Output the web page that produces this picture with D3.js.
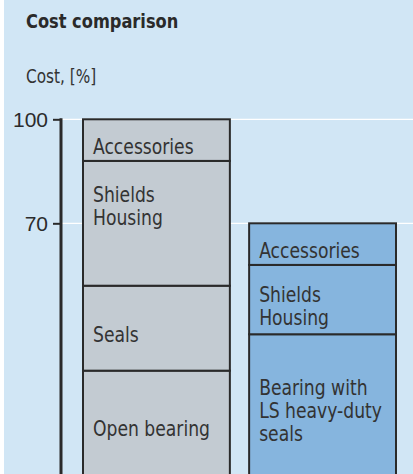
<!DOCTYPE html>
<html lang="en">
  <head>
    <meta charset="utf-8" />
    <title>Cost comparison</title>
    <script src="https://d3js.org/d3.v7.min.js"></script>
    <style>
      body {
        margin: 0;
        background: #fff;
        font-family: 'DejaVu Sans Condensed', 'DejaVu Sans', sans-serif;
      }
      svg {
        display: block;
      }
      .tick text {
        font-size: 21px;
        fill: #2b2b2b;
      }
      .seg-label {
        font-size: 21px;
        fill: #333;
      }
    </style>
  </head>
  <body>
    <div id="chart"></div>
    <script>
      /* ----------------------------- DATA ----------------------------- */
      const bars = ['Open bearing solution', 'Sealed bearing solution'];

      // segments, bottom to top
      const segmentLabels = [
        ['Open bearing', 'Seals', 'Shields\nHousing', 'Accessories'],
        ['Bearing with\nLS heavy-duty\nseals', 'Shields\nHousing', 'Accessories'],
      ];
      const segmentValues = [
        [27.5, 24.5, 36, 12],
        [38, 20, 12],
      ];
      const barColors = ['#c3cbd2', '#86b5de'];
      const yTicks = [70, 100];

      /* ---------------------------- LAYOUT ---------------------------- */
      const W = 413,
        H = 474;
      const squeeze = 0.91; // the original face is narrower than DejaVu Condensed

      // labels that sit near the top of their segment instead of centred
      const topAligned = [[0, 2]];

      const svg = d3
        .select('#chart')
        .append('svg')
        .attr('width', W)
        .attr('height', H);

      // panel background
      svg
        .append('rect')
        .attr('x', 4)
        .attr('y', 0)
        .attr('width', W - 4)
        .attr('height', H)
        .attr('fill', '#d1e6f5');

      svg
        .append('text')
        .attr('transform', 'translate(26,28) scale(0.95,1)')
        .attr('font-size', 19)
        .attr('font-weight', 700)
        .attr('fill', '#2a2a2a')
        .text('Cost comparison');

      svg
        .append('text')
        .attr('transform', 'translate(26,83) scale(0.85,1)')
        .attr('font-size', 20)
        .attr('fill', '#333')
        .text('Cost, [%]');

      /* ---------------------------- SCALES ---------------------------- */
      const axisX = 61;
      const x = d3.scaleBand().domain(bars).range([83, 396]).paddingInner(0.116);
      const y = d3.scaleLinear().domain([0, 100]).range([466, 119.3]);

      /* --------------------------- GRIDLINES -------------------------- */
      svg
        .selectAll('line.grid')
        .data(yTicks)
        .join('line')
        .attr('class', 'grid')
        .attr('x1', axisX + 1)
        .attr('x2', W)
        .attr('y1', (d) => y(d))
        .attr('y2', (d) => y(d))
        .attr('stroke', '#fff')
        .attr('stroke-width', 1.2);

      /* ----------------------------- BARS ----------------------------- */
      const stacks = bars.map((b, i) => {
        let acc = 0;
        return segmentValues[i].map((v, j) => {
          const s = { bar: b, i, j, y0: acc, y1: acc + v, label: segmentLabels[i][j] };
          acc += v;
          return s;
        });
      });

      const segs = stacks.flat();

      // base of the stack is cropped below the frame
      const segBottom = (d) => (d.j === 0 ? H + 10 : y(d.y0));

      svg
        .selectAll('rect.seg')
        .data(segs)
        .join('rect')
        .attr('class', 'seg')
        .attr('x', (d) => x(d.bar))
        .attr('width', x.bandwidth())
        .attr('y', (d) => y(d.y1))
        .attr('height', (d) => segBottom(d) - y(d.y1))
        .attr('fill', (d) => barColors[d.i])
        .attr('stroke', '#2a2a2a')
        .attr('stroke-width', 2);

      /* ---------------------------- LABELS ---------------------------- */
      const lineH = 23,
        capH = 15.3;

      svg
        .selectAll('text.seg-label')
        .data(segs)
        .join('text')
        .attr('class', 'seg-label')
        .each(function (d) {
          const lines = d.label.split('\n');
          const top = y(d.y1);
          const bottom = Math.min(segBottom(d), H);
          let first;
          if (topAligned.some(([a, b]) => a === d.i && b === d.j)) {
            first = top + 41;
          } else {
            const mid = (top + bottom) / 2 + 6;
            first = mid - ((lines.length - 1) * lineH + capH) / 2 + capH;
          }
          d3.select(this)
            .attr('transform', `translate(${x(d.bar) + 10},${first}) scale(${squeeze},1)`)
            .selectAll('tspan')
            .data(lines)
            .join('tspan')
            .attr('x', 0)
            .attr('y', (_, k) => k * lineH)
            .text((t) => t);
        });

      /* ----------------------------- AXIS ----------------------------- */
      const axisG = svg
        .append('g')
        .attr('transform', `translate(${axisX},0)`)
        .call(
          d3.axisLeft(y).tickValues(yTicks).tickSize(8).tickPadding(5),
        );
      axisG.select('.domain').remove();
      axisG.selectAll('.tick line').attr('stroke', '#2a2a2a').attr('stroke-width', 2);
      axisG
        .selectAll('.tick text')
        .attr('font-family', "'Liberation Sans', sans-serif")
        .attr('dy', '0.35em');

      svg
        .append('line')
        .attr('x1', axisX)
        .attr('x2', axisX)
        .attr('y1', y(100) - 1)
        .attr('y2', H)
        .attr('stroke', '#2a2a2a')
        .attr('stroke-width', 3);
    </script>
  </body>
</html>
